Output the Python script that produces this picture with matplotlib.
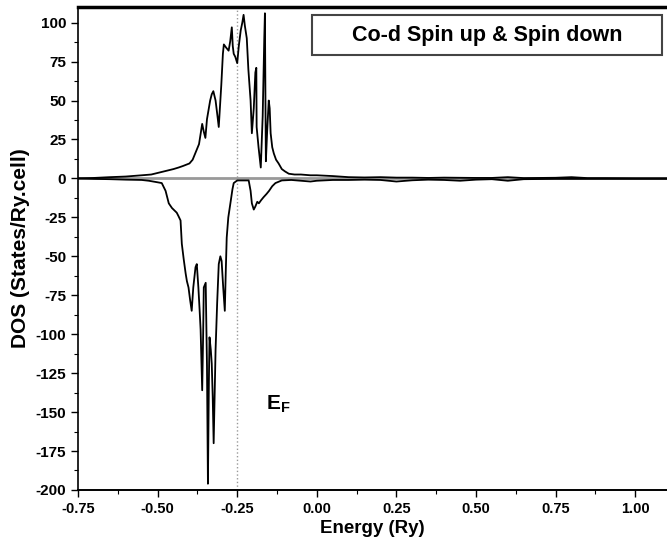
import matplotlib.pyplot as plt
from matplotlib.patches import Rectangle
from matplotlib.ticker import MultipleLocator

plt.rcParams['font.family'] = ['Liberation Sans', 'DejaVu Sans']
plt.rcParams['font.weight'] = 'bold'
plt.rcParams['axes.unicode_minus'] = False

# Co-d spin up DOS
e_up = [-0.75, -0.70, -0.65, -0.60, -0.55, -0.52, -0.50, -0.47, -0.45, -0.434,
        -0.42, -0.40, -0.39, -0.38, -0.37, -0.36, -0.355, -0.35, -0.345, -0.335,
        -0.33, -0.325, -0.318, -0.312, -0.308, -0.30, -0.295, -0.292, -0.285, -0.277,
        -0.272, -0.267, -0.264, -0.261, -0.256, -0.25, -0.245, -0.239, -0.234, -0.23,
        -0.226, -0.22, -0.215, -0.208, -0.204, -0.198, -0.193, -0.19, -0.189, -0.183,
        -0.176, -0.17, -0.165, -0.163, -0.161, -0.16, -0.156, -0.151, -0.148, -0.145,
        -0.14, -0.135, -0.128, -0.12, -0.11, -0.10, -0.088, -0.07, -0.05, -0.02,
        0.0, 0.05, 0.10, 0.15, 0.20, 0.25, 0.30, 0.35, 0.40, 0.45,
        0.50, 0.55, 0.60, 0.65, 0.70, 0.75, 0.80, 0.85, 0.90, 1.00, 1.10]
dos_up = [0, 0.3, 0.8, 1.2, 2, 2.5, 3.5, 5, 6, 7,
          8, 9.6, 12, 17, 22, 35, 30, 26, 38, 50,
          54, 56, 50, 40, 33, 60, 80, 86, 84, 82,
          88, 97, 85, 80, 78, 74, 85, 95, 100, 105,
          98, 90, 70, 50, 29, 45, 68, 71, 33, 20,
          7, 40, 90, 106, 40, 11, 30, 50, 45, 29,
          20, 16, 12, 9.6, 6, 4.5, 3, 2.5, 2.5, 2,
          2, 1.5, 0.8, 0.6, 0.8, 0.5, 0.5, 0.3, 0.5, 0.4,
          0.3, 0.3, 0.8, 0.2, 0.3, 0.4, 0.8, 0.2, 0.2, 0.1, 0.1]

# Co-d spin down DOS
e_dn = [-0.75, -0.70, -0.65, -0.60, -0.55, -0.528, -0.50, -0.487, -0.475, -0.465,
        -0.455, -0.44, -0.435, -0.428, -0.424, -0.418, -0.412, -0.408, -0.403, -0.398,
        -0.393, -0.388, -0.381, -0.377, -0.372, -0.368, -0.365, -0.36, -0.357, -0.355,
        -0.349, -0.345, -0.342, -0.339, -0.337, -0.333, -0.33, -0.327, -0.324, -0.321,
        -0.318, -0.313, -0.308, -0.303, -0.299, -0.294, -0.289, -0.286, -0.283, -0.278,
        -0.27, -0.265, -0.261, -0.25, -0.23, -0.214, -0.208, -0.204, -0.198, -0.193,
        -0.187, -0.182, -0.175, -0.167, -0.158, -0.15, -0.14, -0.13, -0.11, -0.08,
        -0.05, -0.02, 0.0, 0.05, 0.10, 0.15, 0.20, 0.25, 0.30, 0.35,
        0.40, 0.45, 0.50, 0.55, 0.60, 0.65, 0.70, 0.75, 0.80, 0.90, 1.00, 1.10]
dos_dn = [0, -0.3, -0.5, -0.8, -1, -1.5, -2.5, -3, -8, -16,
          -19, -22, -24, -27, -42, -52, -61, -66, -70, -78,
          -85, -70, -57, -55, -70, -85, -97, -136, -100, -70,
          -67, -120, -196, -130, -102, -110, -119, -140, -170, -140,
          -110, -80, -55, -50, -53, -70, -85, -60, -38, -25,
          -14, -7, -3, -1.3, -1.3, -1.3, -8, -16, -20, -18,
          -15, -16, -14, -12, -10, -8, -5, -3, -1.3, -1.0,
          -1.5, -2, -1.5, -1, -1, -0.8, -1, -2, -1.2, -0.8,
          -1, -1.5, -0.8, -0.5, -1.5, -0.5, -0.4, -0.3, -0.3, -0.3, -0.3, -0.3]

e_fermi = -0.25

fig = plt.figure(figsize=(6.67, 5.42), dpi=100)
ax = fig.add_axes([0.117, 0.096, 0.883, 0.891])

ax.axhline(0, color='#999999', lw=2, zorder=1)
ax.axvline(e_fermi, color='#999999', lw=1, ls=':', zorder=1)
ax.plot(e_up, dos_up, color='black', lw=1.3, zorder=2)
ax.plot(e_dn, dos_dn, color='black', lw=1.3, zorder=2)

ax.set_xlim(-0.75, 1.1)
ax.set_ylim(-200, 110)
ax.xaxis.set_major_locator(MultipleLocator(0.25))
ax.xaxis.set_minor_locator(MultipleLocator(0.125))
ax.yaxis.set_major_locator(MultipleLocator(25))
ax.yaxis.set_minor_locator(MultipleLocator(12.5))
ax.xaxis.set_major_formatter(plt.FormatStrFormatter('%.2f'))
ax.tick_params(axis='x', which='major', labelsize=10.5, length=5, width=1)
ax.tick_params(axis='y', which='major', labelsize=11, length=5, width=1)
ax.tick_params(which='minor', length=3, width=0.8)

ax.spines['right'].set_visible(False)
ax.spines['top'].set_linewidth(2.5)
ax.spines['left'].set_linewidth(1.2)
ax.spines['bottom'].set_linewidth(1.4)

ax.set_xlabel('Energy (Ry)', fontsize=13.5, fontweight='bold', labelpad=3)
ax.set_ylabel('DOS (States/Ry.cell)', fontsize=15, fontweight='bold', labelpad=4)

ax.text(-0.12, -145, r'E$_\mathregular{F}$', fontsize=15, fontweight='bold',
        ha='center', va='center')

# label box
ax.add_patch(Rectangle((0.397, 0.9006), 0.594, 0.0828, transform=ax.transAxes,
                       fc='white', ec='#444444', lw=1.5, zorder=3))
ax.text(0.694, 0.942, 'Co-d Spin up & Spin down', transform=ax.transAxes,
        fontsize=15.5, fontweight='bold', ha='center', va='center', zorder=4)

fig.savefig('out.png', dpi=100)
